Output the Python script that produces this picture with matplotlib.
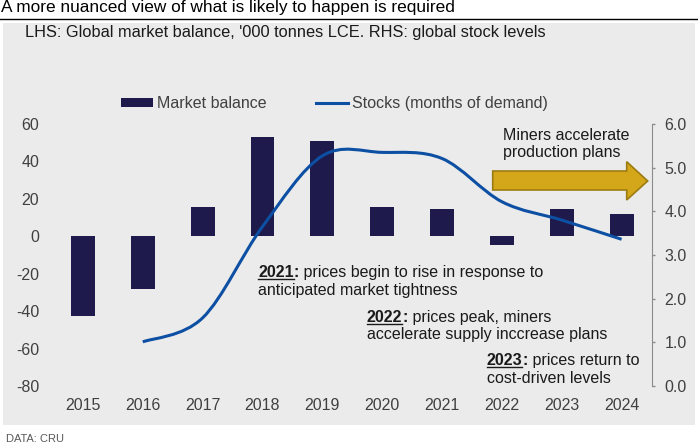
import matplotlib

matplotlib.use("Agg")
import matplotlib.pyplot as plt
from matplotlib.lines import Line2D
from matplotlib.patches import PathPatch, Polygon, Rectangle
from matplotlib.path import Path

# --- data ------------------------------------------------------------------
years = [2015, 2016, 2017, 2018, 2019, 2020, 2021, 2022, 2023, 2024]
balance = [-42.7, -28.2, 15.6, 53.3, 50.8, 15.9, 14.7, -4.8, 14.7, 11.8]
stock_years = [2016, 2017, 2018, 2019, 2020, 2021, 2022, 2023, 2024]
stocks = [1.01, 1.56, 3.65, 5.27, 5.35, 5.21, 4.22, 3.80, 3.36]
left_ticks = [-80, -60, -40, -20, 0, 20, 40, 60]
right_ticks = [0.0, 1.0, 2.0, 3.0, 4.0, 5.0, 6.0]

W, H = 698, 443
BAR_COLOR = "#1e1a4b"
LINE_COLOR = "#0c4fa3"
TEXT_COLOR = "#1a1a1a"
TICK_COLOR = "#404040"
FONT = ["Liberation Sans", "DejaVu Sans"]

plt.rcParams["font.family"] = FONT


def fx(x: float) -> float:
    return x / W


def fy(y: float) -> float:
    return 1 - y / H


def smooth_path(xs, ys) -> Path:
    """Excel-style smoothed line: Catmull-Rom through the points as beziers."""
    n = len(xs)
    verts = [(xs[0], ys[0])]
    codes = [Path.MOVETO]
    for i in range(n - 1):
        prev = max(i - 1, 0)
        nxt = min(i + 2, n - 1)
        c1 = (xs[i] + (xs[i + 1] - xs[prev]) / 6, ys[i] + (ys[i + 1] - ys[prev]) / 6)
        c2 = (xs[i + 1] - (xs[nxt] - xs[i]) / 6, ys[i + 1] - (ys[nxt] - ys[i]) / 6)
        verts += [c1, c2, (xs[i + 1], ys[i + 1])]
        codes += [Path.CURVE4] * 3
    return Path(verts, codes)


fig = plt.figure(figsize=(W / 100, H / 100), dpi=100)
fig.patch.set_facecolor("white")

# grey panel behind the chart
fig.patches.append(
    Rectangle(
        (fx(3.3), fy(425)),
        (695 - 3.3) / W,
        (425 - 22.7) / H,
        transform=fig.transFigure,
        facecolor="#ebebeb",
        edgecolor="none",
        zorder=-5,
    )
)

fig.text(
    fx(1), fy(12.3), "A more nuanced view of what is likely to happen is required",
    fontsize=12.4, color="black", va="baseline",
)
fig.add_artist(Line2D([0, 1], [fy(18.5)] * 2, color="black", lw=1.0, transform=fig.transFigure))
fig.text(
    fx(25), fy(37.3),
    "LHS: Global market balance, '000 tonnes LCE. RHS: global stock levels",
    fontsize=11.8, color=TEXT_COLOR, va="baseline",
)
fig.text(
    fx(6), fy(442.5), "DATA: CRU", fontsize=8, color="#595959", va="baseline",
    family=["Liberation Sans Narrow", "Liberation Sans", "DejaVu Sans"],
)

# --- axes -------------------------------------------------------------------
ax = fig.add_axes([fx(53), fy(386), (651.5 - 53) / W, (386 - 124) / H])
ax.set_facecolor("none")
positions = list(range(len(years)))
ax.bar(positions, balance, width=0.4, color=BAR_COLOR, label="Market balance", zorder=2)
ax.set_xlim(-0.5, len(years) - 0.5)
ax.set_ylim(-80, 60)
ax.set_xticks(positions, labels=[str(y) for y in years])
ax.set_yticks(left_ticks, labels=[str(v) for v in left_ticks])
ax.tick_params(axis="x", length=0, pad=8.6, labelsize=11.5, labelcolor=TICK_COLOR)
ax.tick_params(axis="y", length=0, pad=10, labelsize=11.5, labelcolor=TICK_COLOR)
for spine in ax.spines.values():
    spine.set_visible(False)

ax2 = ax.twinx()
ax2.set_ylim(0, 6)
ax2.set_yticks(right_ticks, labels=[f"{v:.1f}" for v in right_ticks])
ax2.tick_params(
    axis="y", direction="out", length=2.4, width=1, color="#8c8c8c",
    pad=7, labelsize=11.5, labelcolor=TICK_COLOR,
)
for name, spine in ax2.spines.items():
    spine.set_visible(name == "right")
ax2.spines["right"].set_color("#8c8c8c")

stock_x = [years.index(y) for y in stock_years]
ax2.add_patch(
    PathPatch(
        smooth_path(stock_x, stocks), facecolor="none", edgecolor=LINE_COLOR,
        lw=2.2, capstyle="butt", zorder=3,
    )
)

# legend
handles = [
    Rectangle((0, 0), 1, 1, facecolor=BAR_COLOR, edgecolor="none"),
    Line2D([0], [0], color=LINE_COLOR, lw=2.2),
]
fig.legend(
    handles, ["Market balance", "Stocks (months of demand)"],
    loc="center left", bbox_to_anchor=(fx(121), fy(103.5)), ncol=2,
    frameon=False, fontsize=11.5, handlelength=2.0, handleheight=0.55,
    handletextpad=0.25, columnspacing=3.1, borderpad=0, borderaxespad=0,
    labelcolor=TICK_COLOR,
)

# gold arrow
arrow = [
    (492.7, 171), (626.7, 171), (626.7, 161.7), (647.7, 181),
    (626.7, 200), (626.7, 190), (492.7, 190),
]
fig.patches.append(
    Polygon(
        [(fx(x), fy(y)) for x, y in arrow], closed=True, transform=fig.transFigure,
        facecolor="#d4a61a", edgecolor="#9c7c12", lw=1.2, zorder=4,
    )
)
fig.text(fx(502.7), fy(140), "Miners accelerate", fontsize=11.5, color=TEXT_COLOR, va="baseline")
fig.text(fx(502.7), fy(156.7), "production plans", fontsize=11.5, color=TEXT_COLOR, va="baseline")

# annotations with underlined years
renderer = fig.canvas.get_renderer()


def note(x, baseline, year, first, second, gap=17.8):
    t = fig.text(fx(x), fy(baseline), year, fontsize=11.5, weight="bold",
                 color=TEXT_COLOR, va="baseline")
    box = t.get_window_extent(renderer)
    fig.add_artist(Line2D([box.x0 / W, box.x1 / W], [fy(baseline + 1.8)] * 2,
                          color=TEXT_COLOR, lw=1.0, transform=fig.transFigure))
    c = fig.text(box.x1 / W, fy(baseline), ":", fontsize=11.5, weight="bold",
                 color=TEXT_COLOR, va="baseline")
    cbox = c.get_window_extent(renderer)
    fig.text(cbox.x1 / W, fy(baseline), first, fontsize=11.5, color=TEXT_COLOR, va="baseline")
    fig.text(fx(x), fy(baseline + gap), second, fontsize=11.5, color=TEXT_COLOR, va="baseline")


note(258.3, 276.7, "2021", " prices begin to rise in response to", "anticipated market tightness")
note(366.7, 321.7, "2022", " prices peak, miners", "accelerate supply inccrease plans")
note(486.7, 365.0, "2023", " prices return to", "cost-driven levels")

fig.savefig("out.png", dpi=100)
